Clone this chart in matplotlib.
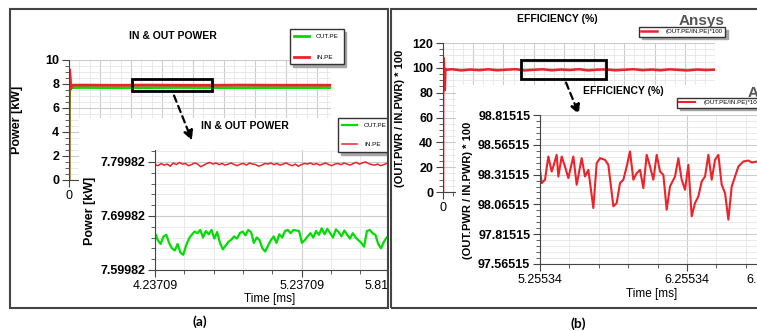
import numpy as np
import matplotlib
matplotlib.use('Agg')
import matplotlib.pyplot as plt
from matplotlib.patches import Rectangle, FancyArrowPatch
from matplotlib.ticker import MultipleLocator, FixedLocator, FuncFormatter

plt.rcParams['font.family'] = ['Liberation Sans', 'DejaVu Sans']

# ---- data ----
# (a) full run
main_t = [0, 0.005, 0.02, 0.04, 0.06, 0.08, 0.12, 0.5, 1.5, 2.5, 3.5, 4.5, 5.5, 6.5, 7.5, 8.45]
main_in_pe = [0, 9.25, 9.15, 8.6, 7.6, 7.9, 7.9, 7.91, 7.89, 7.91, 7.9, 7.89, 7.91, 7.9, 7.9, 7.9]
main_out_pe = [0, 3.8, 7.4, 7.55, 7.7, 7.72, 7.7, 7.71, 7.69, 7.7, 7.71, 7.7, 7.69, 7.7, 7.7, 7.7]

# (a) zoomed window 4.23709 .. 5.8165 ms, evenly sampled
zoom_a_start, zoom_a_end = 4.23709, 5.8165
out_pe_zoom = [7.668, 7.655, 7.648, 7.662, 7.665, 7.650, 7.640, 7.636, 7.648, 7.632, 7.628, 7.645, 7.658,
               7.665, 7.671, 7.668, 7.674, 7.660, 7.672, 7.666, 7.674, 7.658, 7.670, 7.650, 7.638, 7.645,
               7.652, 7.656, 7.662, 7.658, 7.668, 7.671, 7.664, 7.674, 7.670, 7.650, 7.660, 7.655,
               7.640, 7.634, 7.645, 7.655, 7.662, 7.650, 7.666, 7.660, 7.672, 7.674, 7.668,
               7.674, 7.673, 7.672, 7.650, 7.655, 7.662, 7.668, 7.660, 7.672, 7.665, 7.677, 7.666,
               7.676, 7.668, 7.660, 7.675, 7.670, 7.662, 7.673, 7.665, 7.658, 7.668, 7.660, 7.655,
               7.650, 7.643, 7.672, 7.674, 7.668, 7.665, 7.648, 7.640, 7.652, 7.660]
in_pe_zoom = [7.795, 7.793, 7.797, 7.794, 7.796, 7.792, 7.798, 7.795, 7.799, 7.796, 7.797, 7.793, 7.795,
              7.798, 7.796, 7.791, 7.794, 7.797, 7.799, 7.796, 7.798, 7.795, 7.797, 7.794, 7.796, 7.798,
              7.795, 7.793, 7.796, 7.797, 7.794, 7.798, 7.796, 7.795, 7.792, 7.794, 7.797, 7.796, 7.798,
              7.795, 7.797, 7.794, 7.796, 7.798, 7.795, 7.793, 7.796, 7.792, 7.795, 7.797, 7.796, 7.798,
              7.795, 7.797, 7.794, 7.796, 7.798, 7.795, 7.793, 7.796, 7.797, 7.795, 7.798, 7.796, 7.794,
              7.797, 7.799, 7.796, 7.798, 7.800, 7.797, 7.795, 7.794, 7.796, 7.793, 7.795, 7.797]

# (b) full run
main_eff_t = [0, 0.005, 0.02, 0.04, 0.06, 0.08, 0.1, 0.3, 0.6, 0.9, 1.2, 1.5, 1.8, 2.1, 2.4, 2.7, 3.0,
              3.3, 3.6, 3.9, 4.2, 4.5, 4.8, 5.1, 5.4, 5.7, 6.0, 6.3, 6.6, 6.9, 7.2, 7.5, 7.8, 8.1, 8.4, 8.7, 9.0]
main_eff = [0, 108.5, 107, 100, 82, 99, 98.4, 98.9, 97.9, 98.6, 98.1, 98.8, 98.0, 98.5, 98.9, 97.9, 98.4,
            98.8, 98.0, 98.6, 98.2, 98.9, 97.9, 98.5, 98.7, 98.0, 98.4, 98.9, 98.1, 98.6, 98.0, 98.8,
            98.3, 97.9, 98.6, 98.2, 98.5]

# (b) zoomed window
eff_t = [5.2553, 5.2667, 5.2894, 5.3120, 5.3347, 5.3461, 5.3687, 5.3801, 5.4028, 5.4254, 5.4481, 5.4821,
         5.5048, 5.5388, 5.5615, 5.5842, 5.6182, 5.6409, 5.6636, 5.6976, 5.7203, 5.7543, 5.7770, 5.7996,
         5.8223, 5.8450, 5.8677, 5.8904, 5.9130, 5.9357, 5.9584, 5.9811, 6.0038, 6.0264, 6.0491, 6.0718,
         6.0945, 6.1172, 6.1398, 6.1739, 6.1965, 6.2192, 6.2419, 6.2646, 6.2873, 6.3100, 6.3326, 6.3553,
         6.3780, 6.4007, 6.4234, 6.4460, 6.4687, 6.4914, 6.5141, 6.5368, 6.5595, 6.5821, 6.6048, 6.6388,
         6.6729, 6.6956, 6.7319]
eff = [98.355, 98.244, 98.272, 98.467, 98.341, 98.383, 98.481, 98.299, 98.467, 98.383, 98.286, 98.467,
       98.230, 98.453, 98.299, 98.355, 98.035, 98.411, 98.453, 98.439, 98.397, 98.049, 98.077, 98.244,
       98.272, 98.383, 98.509, 98.272, 98.327, 98.355, 98.202, 98.481, 98.383, 98.272, 98.481, 98.341,
       98.313, 98.021, 98.216, 98.299, 98.453, 98.272, 98.188, 98.397, 97.965, 98.077, 98.132, 98.258,
       98.299, 98.481, 98.272, 98.439, 98.481, 98.230, 98.160, 97.937, 98.216, 98.299, 98.383, 98.425,
       98.433, 98.417, 98.425]

GREEN = '#00dd00'
RED = '#ee2229'
W, H = 757, 331

fig = plt.figure(figsize=(W / 100, H / 100), dpi=100)


def box(x0, y0, x1, y1):
    return [x0 / W, 1 - y1 / H, (x1 - x0) / W, (y1 - y0) / H]


def rect(x0, y0, x1, y1, **kw):
    fig.add_artist(Rectangle((x0 / W, 1 - y1 / H), (x1 - x0) / W, (y1 - y0) / H,
                             transform=fig.transFigure, **kw))


def label(x, y, s, z, **kw):
    fig.text(x / W, 1 - y / H, s, ha=kw.pop('ha', 'center'), va='center', zorder=z, **kw)


def arrow(p0, p1, z):
    fig.add_artist(FancyArrowPatch((p0[0] / W, 1 - p0[1] / H), (p1[0] / W, 1 - p1[1] / H),
                                   transform=fig.transFigure, arrowstyle='-|>', mutation_scale=14,
                                   linestyle=(0, (3, 2)), lw=1.6, color='black', zorder=z))


def style(ax):
    for s in ['top', 'right']:
        ax.spines[s].set_visible(False)
    for s in ['left', 'bottom']:
        ax.spines[s].set_color('#444')
    ax.grid(which='major', color='#cccccc', lw=0.8)
    ax.grid(which='minor', color='#e6e6e6', lw=0.6)
    ax.tick_params(which='major', direction='out', length=5, width=0.8, color='#444', labelsize=9, pad=2)
    ax.tick_params(which='minor', direction='out', length=3, width=0.6, color='#444')
    ax.set_axisbelow(True)


def legend(ax, x, y, size=5, **kw):
    ax.legend(loc='upper left', bbox_to_anchor=(x / W, 1 - y / H), bbox_transform=fig.transFigure,
              fontsize=size, frameon=True, fancybox=False, edgecolor='#333', framealpha=1,
              borderaxespad=0, shadow={'color': '0.65', 'alpha': 1}, **kw)


only_zero = FuncFormatter(lambda v, p: '0' if abs(v) < 1e-9 else '')

# ================= (a) =================
ax1 = fig.add_axes(box(69, 60, 331, 180), zorder=1)
ax1.plot(main_t, main_out_pe, color=GREEN, lw=2, label='OUT.PE')
ax1.plot(main_t, main_in_pe, color=RED, lw=2, label='IN.PE')
ax1.set_xlim(0, 8.45)
ax1.set_ylim(0, 10)
ax1.xaxis.set_major_locator(MultipleLocator(1))
ax1.xaxis.set_minor_locator(MultipleLocator(1 / 3))
ax1.xaxis.set_major_formatter(only_zero)
ax1.yaxis.set_major_locator(MultipleLocator(2))
ax1.yaxis.set_minor_locator(MultipleLocator(0.5))
style(ax1)
for t in ax1.get_yticklabels():
    t.set_fontweight('bold')
legend(ax1, 290, 29, size=4.6, labelspacing=2.4, handlelength=2.2, handletextpad=1.2, borderpad=0.7)

label(173, 36, 'IN & OUT POWER', 1.5, fontsize=7.5, fontweight='bold')
label(17, 120, 'Power [kW]', 1.5, rotation=90, fontsize=9, fontweight='bold')
rect(132, 79, 212, 91, fill=False, ec='black', lw=2, zorder=1.6)

# white card for the zoom
rect(79, 118, 387, 306, fc='white', ec='none', zorder=2)

ax2 = fig.add_axes(box(155, 150, 388, 270), zorder=3)
tz = np.linspace(zoom_a_start, zoom_a_end, len(out_pe_zoom))
ax2.plot(tz, out_pe_zoom, color=GREEN, lw=1.6, label='OUT.PE')
tz = np.linspace(zoom_a_start, zoom_a_end, len(in_pe_zoom))
ax2.plot(tz, in_pe_zoom, color=RED, lw=1.1, label='IN.PE')
ax2.set_xlim(4.23709, 5.82538)
ax2.set_ylim(7.59982, 7.82204)
ax2.set_xticks([4.23709, 5.23709, 5.81709], ['4.23709', '5.23709', '5.81709'])
ax2.xaxis.set_minor_locator(FixedLocator([4.23709 + 0.2 * k for k in range(9)]))
ax2.set_yticks([7.59982, 7.69982, 7.79982], ['7.59982', '7.69982', '7.79982'], fontweight='bold')
ax2.yaxis.set_minor_locator(FixedLocator([7.59982 + 0.02 * k for k in range(12)]))
style(ax2)
legend(ax2, 338, 118, size=4.6, labelspacing=2.2, handlelength=2.2, handletextpad=1.2, borderpad=0.7)

label(245, 126, 'IN & OUT POWER', 3.5, fontsize=7.5, fontweight='bold')
label(90, 211, 'Power [kW]', 3.5, rotation=90, fontsize=9, fontweight='bold')
label(270, 299, 'Time [ms]', 3.5, fontsize=8.5)
label(200, 322, '(a)', 3.5, fontsize=10, fontweight='bold', family=['Lato', 'DejaVu Sans'])
arrow((173, 93), (193, 143), 3.6)
rect(10, 9, 388, 308, fill=False, ec='#444', lw=1.5, zorder=3.9)

# ================= (b) =================
rect(389, 0, 757, 331, fc='white', ec='none', zorder=4)

ax3 = fig.add_axes(box(443, 43, 715, 192), zorder=5)
ax3.plot(main_eff_t, main_eff, color=RED, lw=1.8, label='(OUT.PE/IN.PE)*100')
ax3.set_xlim(0, 9)
ax3.set_ylim(0, 120)
ax3.xaxis.set_major_locator(MultipleLocator(1))
ax3.xaxis.set_minor_locator(MultipleLocator(1 / 3))
ax3.xaxis.set_major_formatter(only_zero)
ax3.yaxis.set_major_locator(MultipleLocator(20))
ax3.yaxis.set_minor_locator(MultipleLocator(5))
style(ax3)
for t in ax3.get_yticklabels():
    t.set_fontweight('bold')
legend(ax3, 639, 27, size=4.4, handlelength=2.6, handletextpad=1.4, borderpad=0.35)

label(557, 19, 'EFFICIENCY (%)', 5.5, fontsize=7.5, fontweight='bold')
label(702, 21, 'Ansys', 5.5, fontsize=11, fontweight='bold', color='#555555')
label(400, 118, '(OUT.PWR / IN.PWR) * 100', 5.5, rotation=90, fontsize=8, fontweight='bold')
rect(521, 60, 606, 79, fill=False, ec='black', lw=2, zorder=5.6)

rect(456, 85, 757, 306, fc='white', ec='none', zorder=6)

ax4 = fig.add_axes(box(540, 115, 800, 264), zorder=7)
ax4.plot(eff_t, eff, color=RED, lw=1.5, label='(OUT.PE/IN.PE)*100')
ax4.set_xlim(5.25534, 7.02410)
ax4.set_ylim(97.56515, 98.81515)
ax4.set_xticks([5.25534, 6.25534, 6.81534], ['5.25534', '6.25534', '6.75534'])
ax4.xaxis.set_minor_locator(FixedLocator([5.25534 + 0.2 * k for k in range(9)]))
yt = [97.56515 + 0.25 * k for k in range(6)]
ax4.set_yticks(yt, ['%.5f' % v for v in yt], fontweight='bold')
ax4.yaxis.set_minor_locator(FixedLocator([97.56515 + 0.05 * k for k in range(26)]))
style(ax4)
legend(ax4, 677, 98, size=4.4, handlelength=2.6, handletextpad=1.4, borderpad=0.35)

label(623, 91, 'EFFICIENCY (%)', 7.5, fontsize=7.5, fontweight='bold')
label(748, 93, 'Ansys', 7.5, ha='left', fontsize=11, fontweight='bold', color='#555555')
label(468, 190, '(OUT.PWR / IN.PWR) * 100', 7.5, rotation=90, fontsize=8, fontweight='bold')
label(652, 294, 'Time [ms]', 7.5, fontsize=8.5)
label(578, 324, '(b)', 7.5, fontsize=10, fontweight='bold', family=['Lato', 'DejaVu Sans'])
arrow((565, 80), (580, 117), 7.6)
rect(391, 9, 770, 308, fill=False, ec='#444', lw=1.5, zorder=7.9)

fig.savefig('out.png', dpi=100, facecolor='white')
